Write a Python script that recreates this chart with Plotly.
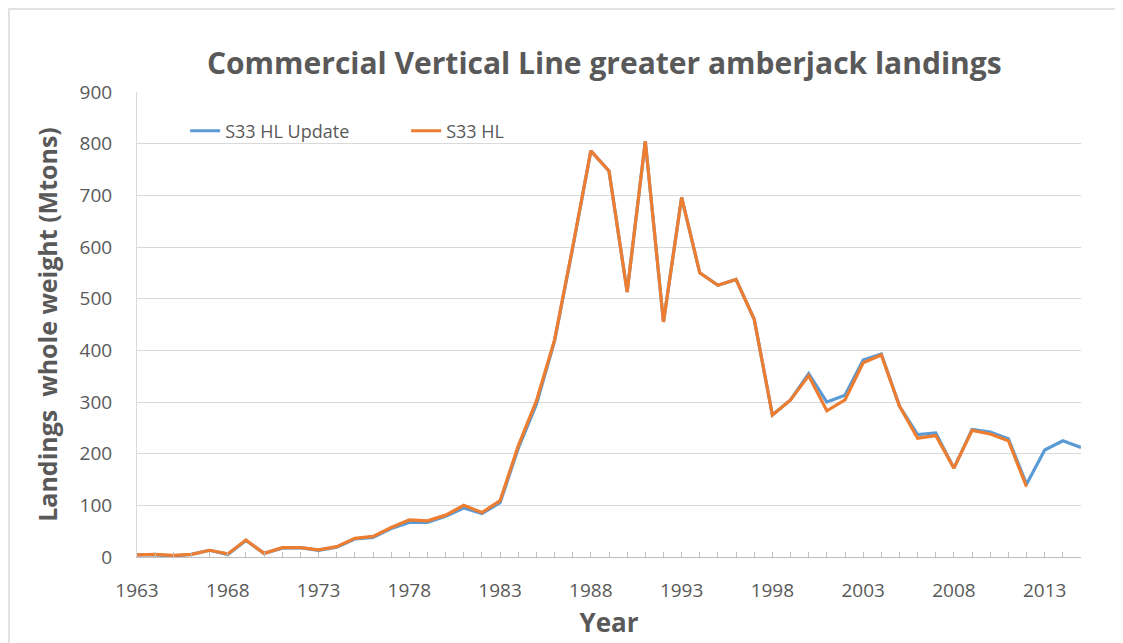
import plotly.graph_objects as go

years = list(range(1963, 2016))
years_hl = list(range(1963, 2013))

s33_hl_update = [4, 4, 2, 5, 13, 5, 32, 7, 17, 18,
                 13, 19, 35, 38, 55, 67, 67, 79, 95, 84,
                 105, 210, 295, 418, 598, 786, 747, 513, 805, 455,
                 696, 550, 526, 537, 460, 275, 304, 355, 300, 313,
                 381, 393, 292, 237, 240, 172, 247, 242, 229, 141,
                 207, 225, 212]
s33_hl = [4, 5, 3, 5, 13, 6, 33, 7, 18, 18,
          14, 20, 36, 40, 57, 72, 70, 81, 100, 86,
          109, 215, 302, 420, 600, 786, 747, 513, 805, 455,
          696, 550, 526, 537, 460, 275, 304, 351, 283, 304,
          376, 391, 292, 230, 235, 172, 245, 238, 225, 136]

tick_years = list(range(1963, 2016, 5))

GRAY = '#595959'
FONT = 'Open Sans, sans-serif'

fig = go.Figure()
fig.add_trace(go.Scatter(x=years, y=s33_hl_update, mode='lines', name='S33 HL Update',
                         line=dict(color='#5B9BD5', width=3.2)))
fig.add_trace(go.Scatter(x=years_hl, y=s33_hl, mode='lines', name='S33 HL',
                         line=dict(color='#ED7D31', width=3.2)))

fig.update_layout(
    width=1123, height=643,
    # page body adds an 8px offset, margins compensate
    margin=dict(l=129, r=50, t=84, b=94),
    paper_bgcolor='white', plot_bgcolor='white',
    font=dict(family=FONT, color=GRAY, size=19),
    title=dict(text='<b>Commercial Vertical Line greater amberjack landings</b>',
               x=0.531, xanchor='center', y=0.913, yanchor='middle',
               font=dict(family=FONT, size=30, color=GRAY)),
    legend=dict(orientation='h', x=0.051, y=0.916, xanchor='left', yanchor='middle',
                entrywidth=176, entrywidthmode='pixels',
                bgcolor='rgba(0,0,0,0)', font=dict(family=FONT, size=18, color=GRAY)),
    xaxis=dict(range=[1963, 2015], tickvals=tick_years, ticks='inside', ticklen=5,
               tickcolor='#bfbfbf', showgrid=False, showline=True, linecolor='#bfbfbf',
               linewidth=1, ticklabelstandoff=16, zeroline=False,
               minor=dict(ticks='inside', ticklen=5, dtick=1, tick0=1963, tickcolor='#bfbfbf', showgrid=False),
               title=dict(text='<b>Year</b>', standoff=12,
                          font=dict(family=FONT, size=26, color=GRAY))),
    yaxis=dict(range=[0, 900], dtick=100, showgrid=True, gridcolor='#d9d9d9', gridwidth=1,
               showline=True, linecolor='#d9d9d9', zeroline=False, ticks='',
               ticklabelstandoff=20,
               title=dict(text='<b>Landings  whole weight (Mtons)</b>', standoff=14,
                          font=dict(family=FONT, size=25, color=GRAY))),
)

# outer chart frame
fig.add_shape(type='rect', xref='paper', yref='paper', x0=-0.1356, x1=1.06, y0=-0.25, y1=1.1785,
              line=dict(color='#d9d9d9', width=1.5), fillcolor='rgba(0,0,0,0)', layer='below')

fig.write_html('out.html')
